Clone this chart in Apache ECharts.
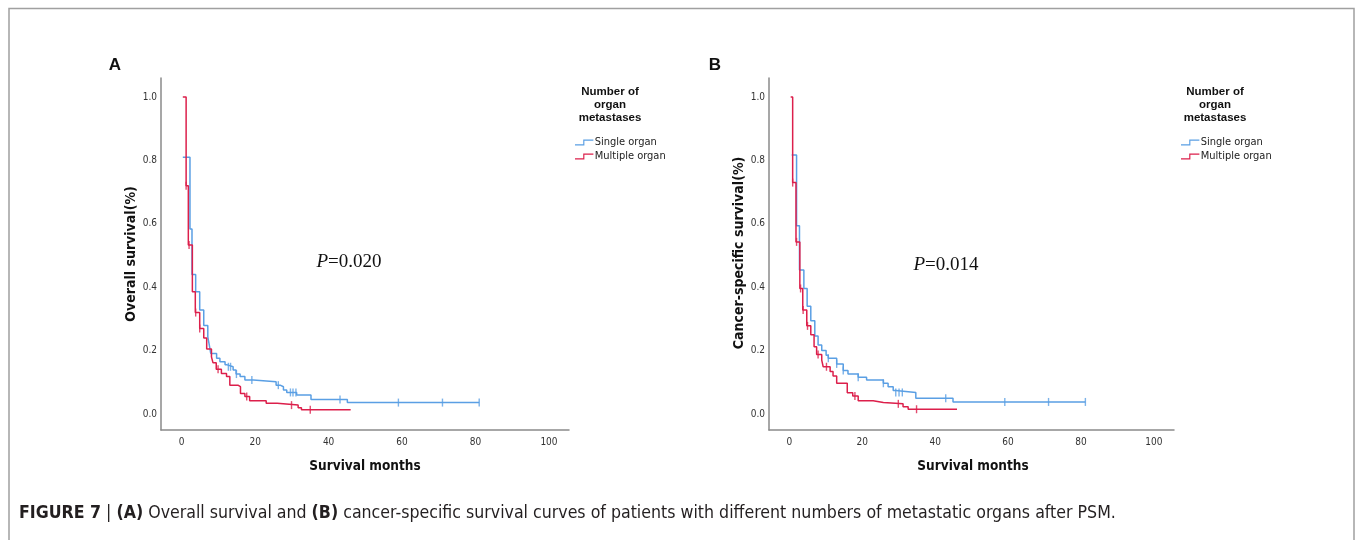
<!DOCTYPE html>
<html>
<head>
<meta charset="utf-8">
<script src="https://cdn.jsdelivr.net/npm/echarts@6/dist/echarts.min.js"></script>
<style>
  html, body { margin: 0; background: #fff; }
  #chart { width: 1355px; height: 540px; }
</style>
</head>
<body>
<div id="chart"></div>
<script>
// KM steps: [month, survival]
const osSingle = [[0.3,0.81],[2.25,0.584],[2.8,0.44],[3.8,0.386],[4.9,0.328],[6.0,0.279],[7.1,0.243],[7.6,0.212],[7.9,0.191],[9.5,0.176],[10.4,0.165],[11.8,0.155],[12.4,0.149],[14.0,0.139],[14.8,0.126],[15.9,0.118],[17.2,0.107],[19.5,0.102],[25.7,0.091],[26.8,0.086],[27.7,0.076],[28.6,0.068],[31.3,0.06],[35.2,0.046],[45.1,0.036],[81,0.036]];
const osMultiple = [[0.3,1.0],[1.2,0.72],[1.8,0.533],[2.9,0.386],[3.7,0.32],[4.9,0.27],[6.0,0.24],[6.8,0.205],[8.1,0.18],[8.5,0.162],[9.4,0.141],[10.8,0.128],[12.2,0.118],[13.1,0.091],[15.3,0.086],[16.0,0.065],[17.2,0.055],[18.5,0.042],[23.0,0.034],[26.0,0.028],[31.7,0.02],[32.6,0.013],[46.0,0.013]];
const osSingleCensor = [[12.7,0.149],[13.3,0.149],[14.9,0.126],[19.1,0.107],[26.3,0.091],[29.6,0.068],[30.3,0.068],[31.1,0.068],[43.1,0.046],[59,0.036],[71,0.036],[81,0.036]];
const osMultipleCensor = [[1.2,0.72],[2.0,0.533],[3.8,0.32],[4.9,0.27],[9.9,0.141],[17.7,0.055],[29.9,0.028],[35.0,0.013]];

const cssSingle = [[0.66,0.817],[2.0,0.594],[2.8,0.454],[4.0,0.396],[4.9,0.34],[5.9,0.294],[7.0,0.246],[7.9,0.218],[8.9,0.2],[10.1,0.185],[10.7,0.176],[13.0,0.158],[14.8,0.137],[16.1,0.126],[18.9,0.116],[21.2,0.107],[25.8,0.097],[27.1,0.086],[28.5,0.074],[29.2,0.068],[34.7,0.05],[44.9,0.038],[81.2,0.038]];
const cssMultiple = [[0.38,1.0],[0.93,0.73],[1.84,0.543],[2.9,0.396],[3.7,0.328],[4.8,0.278],[5.9,0.25],[6.8,0.212],[7.5,0.188],[8.9,0.17],[9.3,0.149],[11.2,0.134],[12.0,0.12],[13.0,0.097],[15.9,0.067],[17.4,0.057],[18.9,0.042],[23.0,0.036],[25.8,0.032],[31.2,0.023],[32.6,0.015],[46.0,0.015]];
const cssSingleCensor = [[10.7,0.176],[13.0,0.158],[14.8,0.137],[18.9,0.116],[25.8,0.097],[29.2,0.068],[30.1,0.068],[31.0,0.068],[42.9,0.05],[59.1,0.038],[71.1,0.038],[81.2,0.038]];
const cssMultipleCensor = [[0.93,0.73],[2.0,0.543],[3.1,0.396],[3.8,0.328],[5.0,0.278],[7.9,0.188],[10.2,0.149],[18.0,0.057],[29.9,0.032],[34.9,0.015]];

const xTicks = [0, 20, 40, 60, 80, 100];
const yTicks = [0.0, 0.2, 0.4, 0.6, 0.8, 1.0];

const BLUE = '#5a9fe4';
const RED = '#dc1f4b';
const AXIS = '#8a8a8a';
const SANS = 'Arial, "Liberation Sans", sans-serif';
const NARROW = '"Arial Narrow", "Liberation Sans Narrow", "DejaVu Sans Condensed", sans-serif';
const SERIF = '"Times New Roman", "Liberation Serif", serif';
const stepIcon = 'path://M0,5 L8.5,5 L8.5,0 L19,0 L19,1.2 L9.7,1.2 L9.7,6.2 L0,6.2 Z';

var chart = echarts.init(document.getElementById('chart'));

function makeX(idx, min, max) {
  return {
    gridIndex: idx, type: 'value', min: min, max: max,
    axisLine: { show: true, onZero: false, lineStyle: { color: AXIS, width: 1.5 } },
    axisTick: { show: false },
    splitLine: { show: false },
    axisLabel: { customValues: xTicks, margin: 7, fontSize: 10, color: '#333', fontFamily: NARROW }
  };
}
function makeY(idx) {
  return {
    gridIndex: idx, type: 'value', min: -0.0505, max: 1.06,
    axisLine: { show: true, onZero: false, lineStyle: { color: AXIS, width: 1.5 } },
    axisTick: { show: false },
    splitLine: { show: false },
    axisLabel: {
      customValues: yTicks, margin: 4, fontSize: 10, color: '#333', fontFamily: NARROW,
      formatter: function (v) { return v.toFixed(1); }
    }
  };
}
function curve(name, data, color, idx) {
  return {
    name: name, type: 'line', step: 'end', data: data,
    xAxisIndex: idx, yAxisIndex: idx,
    showSymbol: false, symbol: 'none',
    lineStyle: { color: color, width: 1.5 },
    itemStyle: { color: color },
    silent: true
  };
}
function censor(name, data, color, idx) {
  return {
    name: name, type: 'scatter', data: data,
    xAxisIndex: idx, yAxisIndex: idx,
    symbol: 'rect', symbolSize: [1.4, 8],
    itemStyle: { color: color },
    silent: true
  };
}
function legendAt(left) {
  return {
    data: ['Single organ', 'Multiple organ'],
    orient: 'vertical', left: left, top: 132,
    icon: stepIcon, itemWidth: 19, itemHeight: 6, itemGap: 3,
    selectedMode: false,
    textStyle: { fontSize: 11, color: '#222', fontFamily: NARROW, padding: [0, 0, 0, -4] }
  };
}
function label(x, y, text, opt) {
  return {
    type: 'text', x: x, y: y, rotation: (opt && opt.rotation) || 0,
    style: Object.assign({
      text: text, fill: '#111', align: 'center', verticalAlign: 'middle',
      fontFamily: SANS, fontSize: 12, fontWeight: 'bold'
    }, (opt && opt.style) || {})
  };
}

const option = {
  animation: false,
  backgroundColor: '#fff',
  grid: [
    { left: 161, top: 78, width: 408, height: 352 },
    { left: 769, top: 78, width: 405, height: 352 }
  ],
  xAxis: [makeX(0, -5.64, 105.45), makeX(1, -5.56, 105.5)],
  yAxis: [makeY(0), makeY(1)],
  legend: [legendAt(570), legendAt(1176)],
  series: [
    curve('Single organ', osSingle, BLUE, 0),
    curve('Multiple organ', osMultiple, RED, 0),
    censor('Single censored', osSingleCensor, BLUE, 0),
    censor('Multiple censored', osMultipleCensor, RED, 0),
    curve('Single organ', cssSingle, BLUE, 1),
    curve('Multiple organ', cssMultiple, RED, 1),
    censor('Single censored', cssSingleCensor, BLUE, 1),
    censor('Multiple censored', cssMultipleCensor, RED, 1)
  ],
  graphic: [
    { type: 'polyline', shape: { points: [[9, 540], [9, 8.5], [1354, 8.5], [1354, 540]] },
      style: { stroke: '#a0a0a0', lineWidth: 1.5, fill: null }, silent: true },
    label(115, 65, 'A', { style: { fontSize: 17 } }),
    label(715, 65, 'B', { style: { fontSize: 17 } }),
    label(610, 85, 'Number of\norgan\nmetastases', { style: { fontSize: 11.5, lineHeight: 13.3, verticalAlign: 'top' } }),
    label(1215, 85, 'Number of\norgan\nmetastases', { style: { fontSize: 11.5, lineHeight: 13.3, verticalAlign: 'top' } }),
    label(131, 254, 'Overall survival(%)', { rotation: Math.PI / 2, style: { fontFamily: NARROW, fontSize: 14 } }),
    label(739, 253, 'Cancer-specific survival(%)', { rotation: Math.PI / 2, style: { fontFamily: NARROW, fontSize: 14 } }),
    label(365, 466, 'Survival months', { style: { fontFamily: NARROW, fontSize: 13.5 } }),
    label(973, 466, 'Survival months', { style: { fontFamily: NARROW, fontSize: 13.5 } }),
    label(349, 262, '{i|P}=0.020', { style: { fontFamily: SERIF, fontSize: 19, fontWeight: 'normal',
      rich: { i: { fontStyle: 'italic', fontFamily: SERIF, fontSize: 19 } } } }),
    label(946, 265, '{i|P}=0.014', { style: { fontFamily: SERIF, fontSize: 19, fontWeight: 'normal',
      rich: { i: { fontStyle: 'italic', fontFamily: SERIF, fontSize: 19 } } } }),
    { type: 'text', x: 19, y: 513,
      style: {
        text: '{b|FIGURE 7} | {b|(A)} Overall survival and {b|(B)} cancer-specific survival curves of patients with different numbers of metastatic organs after PSM.',
        fill: '#231f20', fontFamily: NARROW, fontSize: 17.6, verticalAlign: 'middle', align: 'left',
        rich: { b: { fontWeight: 'bold', fontFamily: NARROW, fontSize: 17.6 } }
      } }
  ]
};
chart.setOption(option);
</script>
</body>
</html>
